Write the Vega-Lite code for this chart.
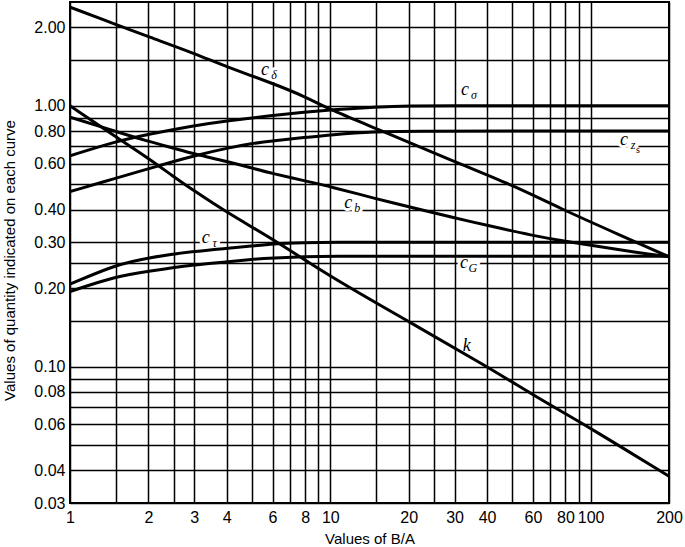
{
  "$schema": "https://vega.github.io/schema/vega-lite/v6.json",
  "width": 599,
  "height": 501,
  "autosize": {"type": "none"},
  "padding": {"left": 70, "top": 2, "right": 16, "bottom": 44},
  "background": "white",
  "config": {
    "view": {"stroke": "black", "strokeWidth": 2},
    "axis": {
      "grid": true,
      "gridColor": "black",
      "gridOpacity": 1,
      "gridWidth": 1.5,
      "ticks": false,
      "domain": false,
      "labelFont": "Liberation Sans",
      "labelFontSize": 16,
      "labelColor": "black",
      "labelOverlap": false,
      "labelBound": false,
      "labelFlush": false,
      "titleFont": "Liberation Sans",
      "titleFontSize": 15,
      "titleFontWeight": "normal",
      "titleColor": "black"
    }
  },
  "datasets": {
    "curves": [
      {"series": "cdelta", "x": 1, "y": 2.39}, {"series": "cdelta", "x": 1.5, "y": 2.05}, {"series": "cdelta", "x": 2, "y": 1.84}, {"series": "cdelta", "x": 3, "y": 1.59}, {"series": "cdelta", "x": 4, "y": 1.41}, {"series": "cdelta", "x": 6, "y": 1.22}, {"series": "cdelta", "x": 8, "y": 1.085}, {"series": "cdelta", "x": 10, "y": 0.965}, {"series": "cdelta", "x": 16, "y": 0.797}, {"series": "cdelta", "x": 30, "y": 0.61}, {"series": "cdelta", "x": 50, "y": 0.497}, {"series": "cdelta", "x": 76, "y": 0.405}, {"series": "cdelta", "x": 129, "y": 0.32}, {"series": "cdelta", "x": 200, "y": 0.264},
      {"series": "csigma", "x": 1, "y": 0.643}, {"series": "csigma", "x": 1.5, "y": 0.73}, {"series": "csigma", "x": 2, "y": 0.778}, {"series": "csigma", "x": 3, "y": 0.84}, {"series": "csigma", "x": 4, "y": 0.876}, {"series": "csigma", "x": 6, "y": 0.918}, {"series": "csigma", "x": 8, "y": 0.946}, {"series": "csigma", "x": 10, "y": 0.965}, {"series": "csigma", "x": 15, "y": 0.99}, {"series": "csigma", "x": 20, "y": 1.0}, {"series": "csigma", "x": 30, "y": 1.0}, {"series": "csigma", "x": 50, "y": 1.0}, {"series": "csigma", "x": 100, "y": 1.0}, {"series": "csigma", "x": 200, "y": 1.0},
      {"series": "czs", "x": 1, "y": 0.469}, {"series": "czs", "x": 1.5, "y": 0.528}, {"series": "czs", "x": 2, "y": 0.573}, {"series": "czs", "x": 2.5, "y": 0.612}, {"series": "czs", "x": 3, "y": 0.643}, {"series": "czs", "x": 4, "y": 0.688}, {"series": "czs", "x": 5, "y": 0.717}, {"series": "czs", "x": 6, "y": 0.734}, {"series": "czs", "x": 8, "y": 0.756}, {"series": "czs", "x": 10, "y": 0.774}, {"series": "czs", "x": 15, "y": 0.797}, {"series": "czs", "x": 20, "y": 0.8}, {"series": "czs", "x": 50, "y": 0.8}, {"series": "czs", "x": 200, "y": 0.8},
      {"series": "cb", "x": 1, "y": 0.905}, {"series": "cb", "x": 1.5, "y": 0.797}, {"series": "cb", "x": 2, "y": 0.73}, {"series": "cb", "x": 2.5, "y": 0.688}, {"series": "cb", "x": 3, "y": 0.653}, {"series": "cb", "x": 4, "y": 0.612}, {"series": "cb", "x": 5, "y": 0.577}, {"series": "cb", "x": 6, "y": 0.55}, {"series": "cb", "x": 8, "y": 0.515}, {"series": "cb", "x": 10, "y": 0.49}, {"series": "cb", "x": 15, "y": 0.44}, {"series": "cb", "x": 20, "y": 0.41}, {"series": "cb", "x": 30, "y": 0.372}, {"series": "cb", "x": 40, "y": 0.348}, {"series": "cb", "x": 60, "y": 0.318}, {"series": "cb", "x": 80, "y": 0.302}, {"series": "cb", "x": 100, "y": 0.292}, {"series": "cb", "x": 150, "y": 0.274}, {"series": "cb", "x": 200, "y": 0.264},
      {"series": "ctau", "x": 1, "y": 0.207}, {"series": "ctau", "x": 1.5, "y": 0.246}, {"series": "ctau", "x": 2, "y": 0.262}, {"series": "ctau", "x": 3, "y": 0.277}, {"series": "ctau", "x": 4, "y": 0.284}, {"series": "ctau", "x": 5, "y": 0.29}, {"series": "ctau", "x": 6, "y": 0.296}, {"series": "ctau", "x": 8, "y": 0.299}, {"series": "ctau", "x": 10, "y": 0.3}, {"series": "ctau", "x": 20, "y": 0.3}, {"series": "ctau", "x": 200, "y": 0.3},
      {"series": "cG", "x": 1, "y": 0.194}, {"series": "cG", "x": 1.5, "y": 0.222}, {"series": "cG", "x": 2, "y": 0.232}, {"series": "cG", "x": 3, "y": 0.246}, {"series": "cG", "x": 4, "y": 0.252}, {"series": "cG", "x": 5, "y": 0.258}, {"series": "cG", "x": 6, "y": 0.261}, {"series": "cG", "x": 8, "y": 0.264}, {"series": "cG", "x": 10, "y": 0.265}, {"series": "cG", "x": 20, "y": 0.265}, {"series": "cG", "x": 200, "y": 0.265},
      {"series": "k", "x": 1, "y": 1.0}, {"series": "k", "x": 1.5, "y": 0.76}, {"series": "k", "x": 2, "y": 0.63}, {"series": "k", "x": 2.5, "y": 0.535}, {"series": "k", "x": 3, "y": 0.472}, {"series": "k", "x": 4, "y": 0.39}, {"series": "k", "x": 6.3, "y": 0.3}, {"series": "k", "x": 10, "y": 0.221}, {"series": "k", "x": 20, "y": 0.149}, {"series": "k", "x": 40, "y": 0.1}, {"series": "k", "x": 60, "y": 0.078}, {"series": "k", "x": 80, "y": 0.066}, {"series": "k", "x": 100, "y": 0.058}, {"series": "k", "x": 200, "y": 0.038}
    ],
    "labels": [
      {"x": 5.61, "y": 1.366, "main": "c", "sub": "δ", "sub2": ""},
      {"x": 32.9, "y": 1.145, "main": "c", "sub": "σ", "sub2": ""},
      {"x": 134.4, "y": 0.74, "main": "c", "sub": "z", "sub2": "s"},
      {"x": 11.73, "y": 0.423, "main": "c", "sub": "b", "sub2": ""},
      {"x": 3.32, "y": 0.3125, "main": "c", "sub": "τ", "sub2": ""},
      {"x": 32.6, "y": 0.249, "main": "c", "sub": "G", "sub2": ""},
      {"x": 33.4, "y": 0.12, "main": "k", "sub": "", "sub2": ""}
    ]
  },
  "encoding": {
    "x": {
      "field": "x",
      "type": "quantitative",
      "scale": {"type": "log", "domain": [1, 200], "nice": false, "zero": false},
      "axis": {
        "values": [1, 1.5, 2, 2.5, 3, 4, 5, 6, 7, 8, 9, 10, 15, 20, 25, 30, 40, 50, 60, 70, 80, 90, 100, 200],
        "labelExpr": "indexof([1,2,3,4,6,8,10,20,30,40,60,80,100,200], datum.value) >= 0 ? format(datum.value, 'd') : ''",
        "labelPadding": 6,
        "title": "Values of B/A",
        "titlePadding": 6
      }
    },
    "y": {
      "field": "y",
      "type": "quantitative",
      "scale": {"type": "log", "domain": [0.03, 2.5], "nice": false, "zero": false},
      "axis": {
        "values": [0.03, 0.04, 0.05, 0.06, 0.07, 0.08, 0.09, 0.1, 0.15, 0.2, 0.25, 0.3, 0.4, 0.5, 0.6, 0.7, 0.8, 0.9, 1, 1.5, 2],
        "labelExpr": "indexof([0.03,0.04,0.06,0.08,0.1,0.2,0.3,0.4,0.6,0.8,1,2], datum.value) >= 0 ? format(datum.value, '.2f') : ''",
        "labelPadding": 5,
        "title": "Values of quantity indicated on each curve",
        "titlePadding": 16,
        "titleY": 258
      }
    }
  },
  "layer": [
    {
      "data": {"name": "labels"},
      "mark": {"type": "text", "font": "Liberation Serif", "fontStyle": "italic", "fontSize": 18, "stroke": "white", "strokeWidth": 6, "fill": "white", "align": "center", "baseline": "middle"},
      "encoding": {"text": {"field": "main"}}
    },
    {
      "data": {"name": "labels"},
      "mark": {"type": "text", "font": "Liberation Serif", "fontStyle": "italic", "fontSize": 12, "stroke": "white", "strokeWidth": 6, "fill": "white", "align": "center", "baseline": "middle", "dx": 9, "dy": 5},
      "encoding": {"text": {"field": "sub"}}
    },
    {
      "data": {"name": "curves"},
      "mark": {"type": "line", "color": "black", "strokeWidth": 3, "interpolate": "basis", "clip": true},
      "encoding": {"detail": {"field": "series"}}
    },
    {
      "data": {"name": "labels"},
      "mark": {"type": "text", "font": "Liberation Serif", "fontStyle": "italic", "fontSize": 18, "color": "black", "align": "center", "baseline": "middle"},
      "encoding": {"text": {"field": "main"}}
    },
    {
      "data": {"name": "labels"},
      "mark": {"type": "text", "font": "Liberation Serif", "fontStyle": "italic", "fontSize": 12, "color": "black", "align": "center", "baseline": "middle", "dx": 9, "dy": 5},
      "encoding": {"text": {"field": "sub"}}
    },
    {
      "data": {"name": "labels"},
      "mark": {"type": "text", "font": "Liberation Serif", "fontSize": 10, "color": "black", "align": "center", "baseline": "middle", "dx": 14, "dy": 10},
      "encoding": {"text": {"field": "sub2"}}
    }
  ]
}
